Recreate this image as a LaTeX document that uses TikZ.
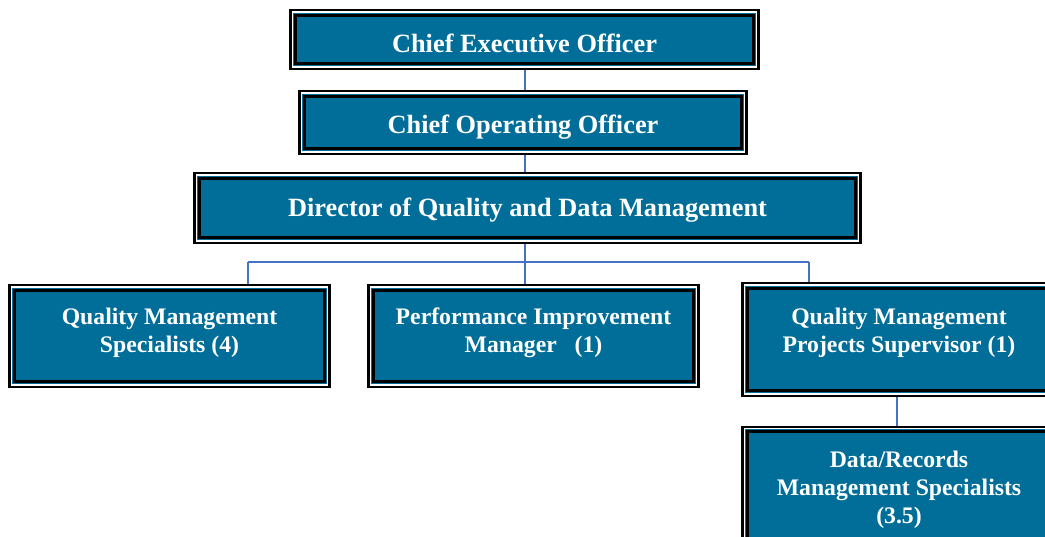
\documentclass[tikz,border=0pt]{standalone}
\usepackage{fontspec}
\setmainfont{Liberation Serif}
\definecolor{qteal}{RGB}{0,110,152}
\definecolor{qline}{RGB}{68,114,196}
\begin{document}
\begin{tikzpicture}[x=0.02cm,y=-0.02cm]
		\tikzstyle{OB}=[rectangle,draw=black,line width=1.4pt,fill=qteal,inner sep=0pt,
			path picture={
				\draw[white,line width=0.6pt] ([shift={(1pt,1pt)}]path picture bounding box.south west) rectangle ([shift={(-1pt,-1pt)}]path picture bounding box.north east);
				\draw[black,line width=1.7pt] ([shift={(2.75pt,2.75pt)}]path picture bounding box.south west) rectangle ([shift={(-2.75pt,-2.75pt)}]path picture bounding box.north east);
			}]
		\tikzstyle{big}=[text=white,align=center,inner sep=0pt,font=\fontsize{15}{18}\selectfont\bfseries]
		\tikzstyle{small}=[text=white,align=center,inner sep=0pt,font=\fontsize{13.5}{15.9}\selectfont\bfseries]
		\tikzstyle{link}=[draw=qline,line width=0.85pt]
		\useasboundingbox (0,0) rectangle (1045,537);
		\clip (0,0) rectangle (1045,537);
		\begin{scope}
		\node[OB,minimum width=9.37cm,minimum height=1.17cm] (ceo) at (524.5,39.5) {};
		\node[OB,minimum width=8.95cm,minimum height=1.25cm] (coo) at (523,122.5) {};
		\node[OB,minimum width=13.33cm,minimum height=1.39cm] (dir) at (527.5,208) {};
		\node[OB,minimum width=6.41cm,minimum height=2.03cm] (qms) at (169.5,336) {};
		\node[OB,minimum width=6.61cm,minimum height=2.03cm] (pim) at (533.5,336) {};
		\node[OB,minimum width=6.27cm,minimum height=2.25cm] (qmps) at (899,339.5) {};
		\node[OB,minimum width=6.27cm,minimum height=2.36cm] (drms) at (899,486) {};
		\end{scope}
		
		\begin{scope}
		\node[big] (ceo-t) at (524.5,43.5) {Chief Executive Officer};
		\node[big] (coo-t) at (523,127.5) {Chief Operating Officer};
		\node[big] (dir-t) at (527.5,210) {Director of Quality and Data Management};
		\node[small] (qms-t) at (169.5,333) {Quality Management\\Specialists (4)};
		\node[small] (pim-t) at (533.5,333) {Performance Improvement\\Manager~~~(1)};
		\node[small] (qmps-t) at (899,332.5) {Quality Management\\Projects Supervisor (1)};
		\node[small] (drms-t) at (899,490) {Data/Records\\Management Specialists\\(3.5)};
		\end{scope}
		
		\coordinate (bus) at (525,262);
		\coordinate (busL) at (248,262);
		\coordinate (busR) at (809,262);
		
		\path[link]
		(ceo.south -| bus) edge (coo.north -| bus)
		(coo.south -| bus) edge (dir.north -| bus)
		(dir.south -| bus) edge (pim.north -| bus)
		(busL) edge (busR)
		(busL) edge (busL |- qms.north)
		(busR) edge (busR |- qmps.north)
		(qmps.south -| 897,0) edge (drms.north -| 897,0)
		;
		
		\end{tikzpicture}
\end{document}
